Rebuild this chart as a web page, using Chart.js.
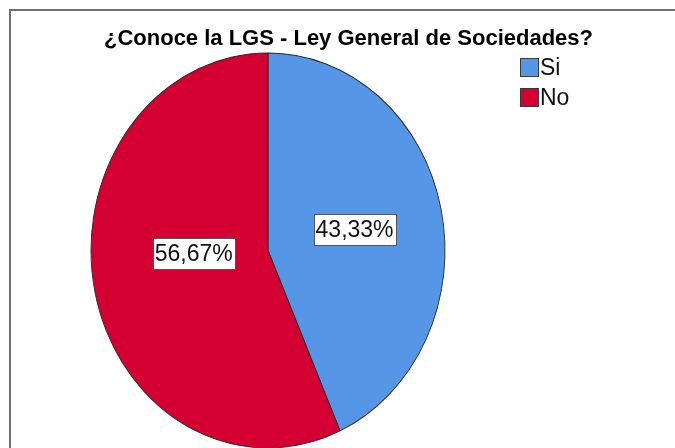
<!DOCTYPE html>
<html>
<head>
<meta charset="utf-8">
<script src="https://cdn.jsdelivr.net/npm/chart.js@4/dist/chart.umd.min.js"></script>
<style>
  html, body { margin: 0; padding: 0; background: #fff; overflow: hidden; }
  canvas { display: block; }
</style>
</head>
<body>
<canvas id="c" width="675" height="448"></canvas>
<script>
const titleText = '¿Conoce la LGS - Ley General de Sociedades?';
const categories = ['Si', 'No'];
const percentages = [43.33, 56.67];
const sliceColors = ['#5596e6', '#d50032'];

const FONT = '"Liberation Sans", Arial, sans-serif';

// Ellipse geometry of the pie on the page
const PIE = { cx: 268, cy: 250.5, rx: 177, ry: 197.5 };

function pieTransform(chart) {
  const arc = chart.getDatasetMeta(0).data[0];
  const R = arc.outerRadius;
  return { cx: arc.x, cy: arc.y, sx: PIE.rx / R, sy: PIE.ry / R, R };
}

const framePlugin = {
  id: 'frame',
  beforeDraw(chart) {
    const ctx = chart.ctx;
    ctx.save();
    ctx.fillStyle = '#fff';
    ctx.fillRect(0, 0, chart.width, chart.height);
    ctx.strokeStyle = '#6e6e6e';
    ctx.lineWidth = 2;
    ctx.beginPath();
    ctx.moveTo(10, chart.height);
    ctx.lineTo(10, 10);
    ctx.lineTo(chart.width, 10);
    ctx.stroke();
    ctx.restore();
  }
};

const ellipsePlugin = {
  id: 'ellipse',
  beforeDatasetsDraw(chart) {
    const t = pieTransform(chart);
    const ctx = chart.ctx;
    ctx.save();
    ctx.translate(PIE.cx, PIE.cy);
    ctx.scale(t.sx, t.sy);
    ctx.translate(-t.cx, -t.cy);
  },
  afterDatasetsDraw(chart, args, opts) {
    const ctx = chart.ctx;
    ctx.restore();
    const t = pieTransform(chart);
    const meta = chart.getDatasetMeta(0);
    const values = chart.data.datasets[0].data;
    ctx.save();
    ctx.font = opts.font;
    ctx.textAlign = 'center';
    ctx.textBaseline = 'middle';
    meta.data.forEach((arc, i) => {
      const mid = (arc.startAngle + arc.endAngle) / 2 + (opts.angleShift[i] || 0) * Math.PI / 180;
      const f = opts.radiusFrac[i];
      const px = PIE.cx + Math.cos(mid) * t.R * f * t.sx;
      const py = PIE.cy + Math.sin(mid) * t.R * f * t.sy;
      const txt = values[i].toFixed(2).replace('.', ',') + '%';
      const w = Math.round(ctx.measureText(txt).width + 4);
      const h = 31;
      const x0 = Math.round(px - w / 2) + 0.5, y0 = Math.round(py - h / 2) + 0.5;
      ctx.fillStyle = '#ffffff';
      ctx.fillRect(x0, y0, w, h);
      ctx.strokeStyle = '#555';
      ctx.lineWidth = 1;
      ctx.strokeRect(x0, y0, w, h);
      ctx.fillStyle = '#111';
      ctx.fillText(txt, px, py + 1);
    });
    ctx.restore();
  }
};

const legendPlugin = {
  id: 'customLegend',
  afterDraw(chart, args, opts) {
    const ctx = chart.ctx;
    const ds = chart.data.datasets[0];
    ctx.save();
    ctx.font = opts.font;
    ctx.textBaseline = 'middle';
    ctx.textAlign = 'left';
    chart.data.labels.forEach((lab, i) => {
      const y = opts.y + i * opts.step;
      ctx.fillStyle = ds.backgroundColor[i];
      ctx.fillRect(opts.x + 0.5, y + 0.5, opts.box, opts.box);
      ctx.strokeStyle = '#3a3a3a';
      ctx.lineWidth = 1;
      ctx.strokeRect(opts.x + 0.5, y + 0.5, opts.box, opts.box);
      ctx.fillStyle = '#111';
      ctx.fillText(lab, opts.x + opts.box + 2, y + opts.box / 2 + 2);
    });
    ctx.restore();
  }
};

new Chart(document.getElementById('c'), {
  type: 'pie',
  data: {
    labels: categories,
    datasets: [{
      data: percentages,
      backgroundColor: sliceColors,
      borderColor: '#2a2a2a',
      borderWidth: 1,
      clip: false
    }]
  },
  options: {
    responsive: false,
    animation: false,
    events: [],
    layout: { padding: { left: 22, right: 0, top: 0, bottom: 0 } },
    plugins: {
      legend: { display: false },
      tooltip: { enabled: false },
      title: {
        display: true,
        text: titleText,
        color: '#000',
        font: { family: FONT, size: 22, weight: 'bold' },
        padding: { top: 26, bottom: 4 }
      },
      ellipse: {
        font: '23px ' + FONT,
        radiusFrac: [0.5, 0.42],
        angleShift: [0, 9.6]
      },
      customLegend: { x: 520, y: 58, step: 30, box: 18, font: '23px ' + FONT }
    }
  },
  plugins: [framePlugin, ellipsePlugin, legendPlugin]
});
</script>
</body>
</html>
